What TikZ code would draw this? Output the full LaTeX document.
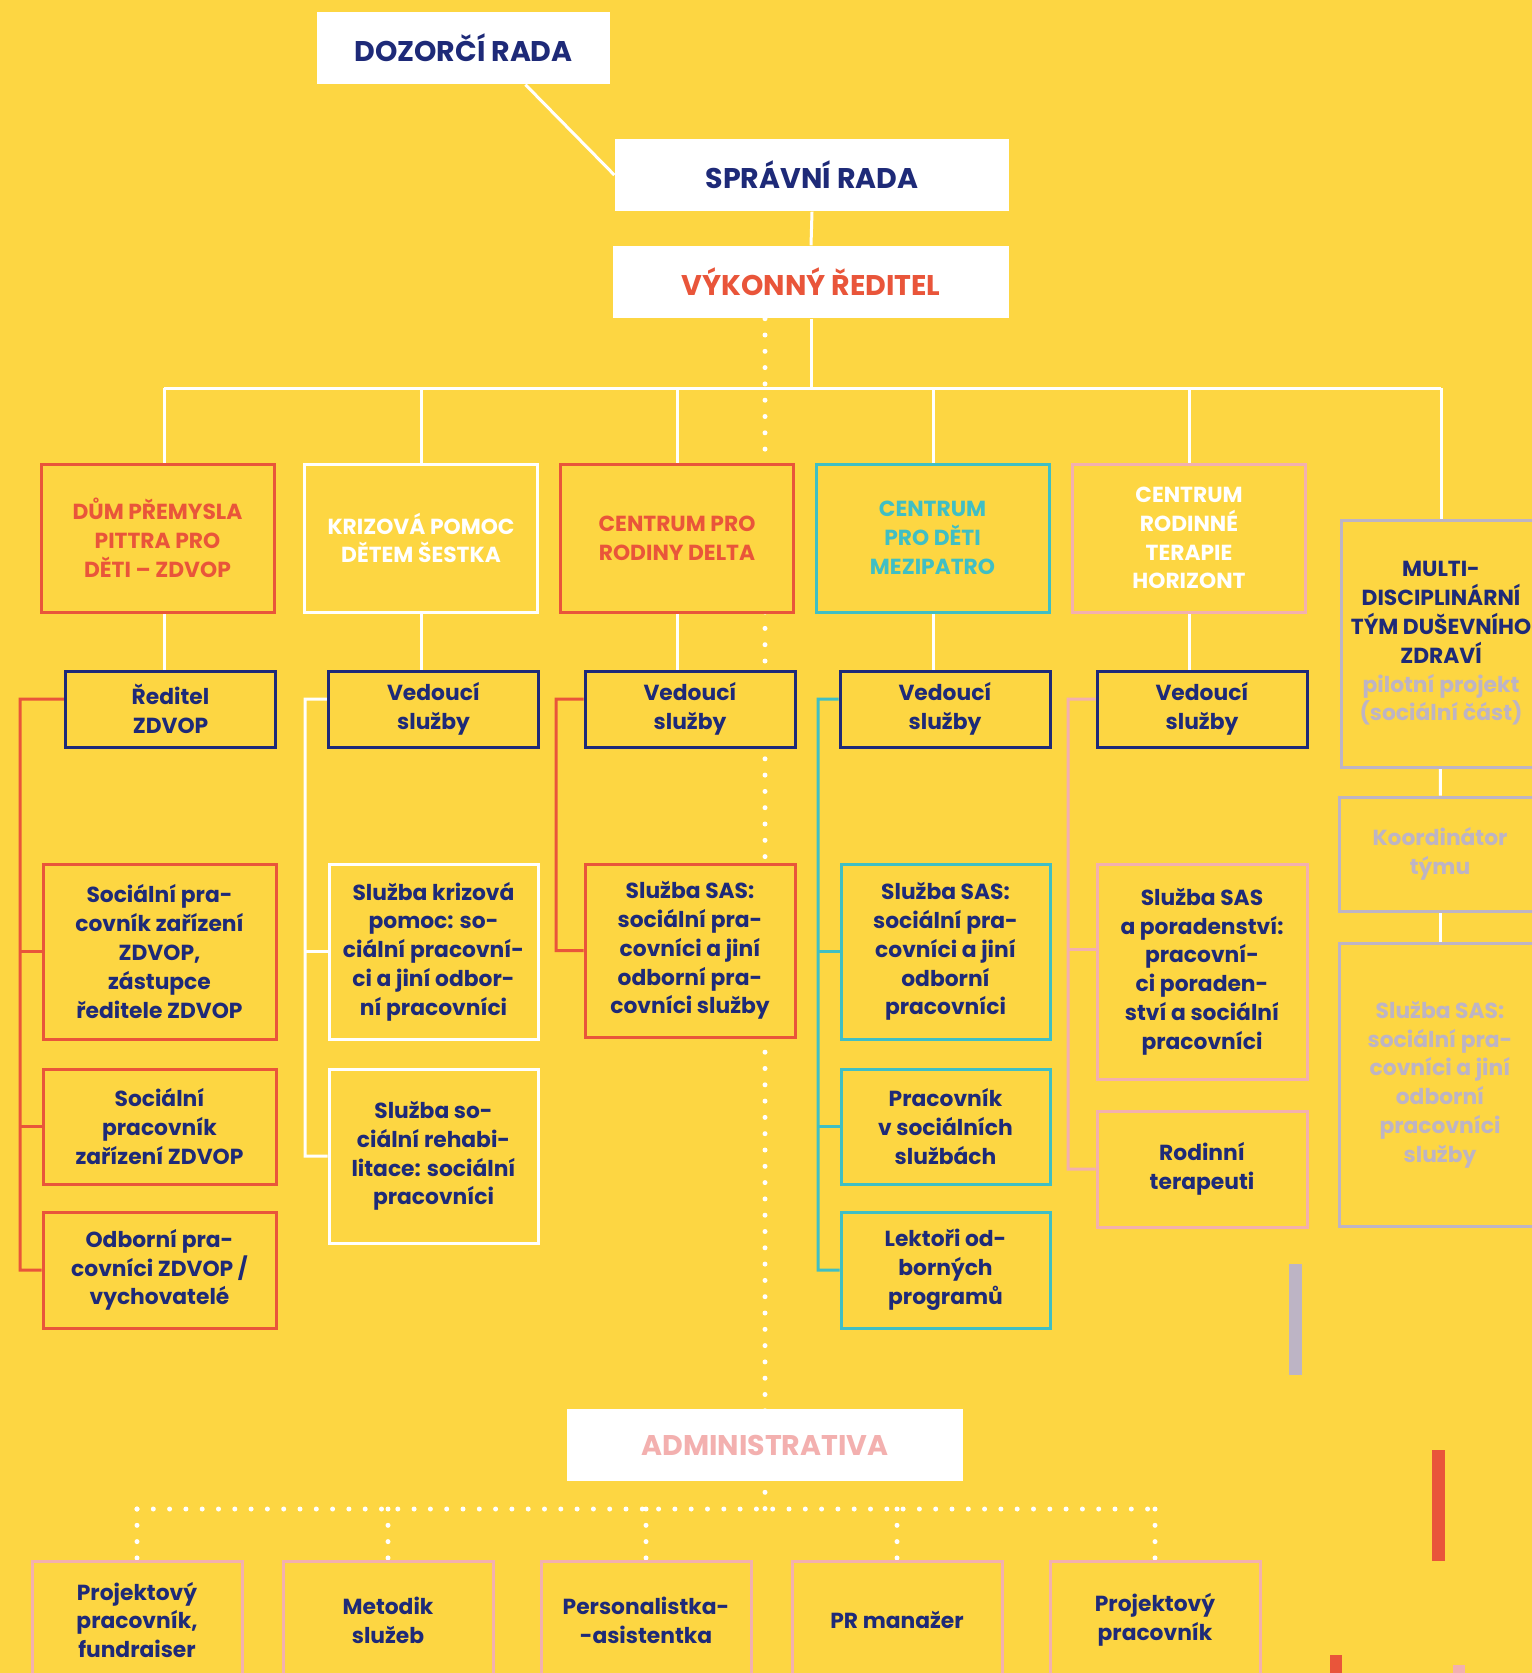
\documentclass[tikz,border=0pt]{standalone}
\usepackage{fontspec}
\setmainfont{Poppins}
\usetikzlibrary{positioning,calc}

\definecolor{bgyellow}{HTML}{FDD642}
\definecolor{navy}{HTML}{1E2A78}
\definecolor{redo}{HTML}{E9553A}
\definecolor{teal}{HTML}{40BFC4}
\definecolor{pinko}{HTML}{F3B0AF}
\definecolor{lav}{HTML}{BDB4C5}

\pgfdeclarelayer{back}
\pgfsetlayers{back,main}

\tikzset{
  box/.style={draw=#1, fill=bgyellow, line width=0.3mm, text=navy},
  wbox/.style={fill=white, minimum width=39.6mm, minimum height=7.2mm,
    font=\bfseries\fontsize{8.1}{9.6}\selectfont},
  unitbox/.style={minimum width=23.3mm, minimum height=14.8mm},
  leadbox/.style={box=navy, minimum width=21mm, minimum height=7.6mm},
  staffbox/.style={box=pinko, minimum width=21mm, minimum height=11.8mm},
  wire/.style={white, line width=0.3mm},
  twig/.style={#1, line width=0.3mm},
  dots/.style={white, line width=0.5mm, line cap=round, dash pattern=on 0pt off 1.63mm}
}

\begin{document}
\begin{tikzpicture}[x=0.1mm, y=-0.1mm,
  every node/.style={font=\bfseries\fontsize{6.2}{8.2}\selectfont, align=center, inner sep=0pt}]
  \useasboundingbox (0,0) rectangle (1532,1673);
  \begin{pgfonlayer}{back}
    \fill[bgyellow] (0,0) rectangle (1532,1673);
  \end{pgfonlayer}

  \node[wbox, minimum width=29.3mm, text=navy] (dozor) at (463.5,48) {DOZORČÍ RADA};
  \node[wbox, minimum width=39.4mm, text=navy] (sprava) at (812,175) {SPRÁVNÍ RADA};
  \node[wbox, text=redo] (reditel) at (811,282) {VÝKONNÝ ŘEDITEL};

  \node[box=redo, unitbox, text=redo] (dum) at (157.5,538) {DŮM PŘEMYSLA\\PITTRA PRO\\DĚTI – ZDVOP};
  \node[box=white, unitbox, text=white] (krize) at (421,538) {KRIZOVÁ POMOC\\DĚTEM ŠESTKA};
  \node[box=redo, unitbox, text=redo] (delta) at (677,538) {CENTRUM PRO\\RODINY DELTA};
  \node[box=teal, unitbox, text=teal] (mezi) at (932.5,538) {CENTRUM\\PRO DĚTI\\MEZIPATRO};
  \node[box=pinko, unitbox, text=white] (horiz) at (1189,538) {CENTRUM\\RODINNÉ\\TERAPIE\\HORIZONT};
  \node[box=lav, minimum width=20mm, minimum height=24.7mm] (multi) at (1441,643.5)
    {MULTI-\\DISCIPLINÁRNÍ\\TÝM DUŠEVNÍHO\\ZDRAVÍ\\\textcolor{lav}{pilotní projekt}\\\textcolor{lav}{(sociální část)}};

  \node[leadbox] (ved1) at (170.5,709) {Ředitel\\ZDVOP};
  \node[leadbox] (ved2) at (433.5,709) {Vedoucí\\služby};
  \node[leadbox] (ved3) at (690,709) {Vedoucí\\služby};
  \node[leadbox] (ved4) at (945,709) {Vedoucí\\služby};
  \node[leadbox] (ved5) at (1202,709) {Vedoucí\\služby};

  \node[box=redo, minimum width=23.3mm, minimum height=17.5mm] (dum1) at (159.5,951.5)
    {Sociální pra-\\covník zařízení\\ZDVOP,\\zástupce\\ředitele ZDVOP};
  \node[box=redo, minimum width=23.3mm, minimum height=11.5mm] (dum2) at (159.5,1126.5)
    {Sociální\\pracovník\\zařízení ZDVOP};
  \node[box=redo, minimum width=23.3mm, minimum height=11.6mm] (dum3) at (159.5,1270)
    {Odborní pra-\\covníci ZDVOP /\\vychovatelé};

  \node[box=white, minimum width=20.9mm, minimum height=17.5mm] (krize1) at (433.5,951.5)
    {Služba krizová\\pomoc: so-\\ciální pracovní-\\ci a jiní odbor-\\ní pracovníci};
  \node[box=white, minimum width=20.9mm, minimum height=17.4mm] (krize2) at (433.5,1156)
    {Služba so-\\ciální rehabi-\\litace: sociální\\pracovníci};

  \node[box=redo, minimum width=21mm, minimum height=17.3mm] (delta1) at (690,950.5)
    {Služba SAS:\\sociální pra-\\covníci a jiní\\odborní pra-\\covníci služby};

  \node[box=teal, minimum width=20.9mm, minimum height=17.5mm] (mezi1) at (945.5,951.5)
    {Služba SAS:\\sociální pra-\\covníci a jiní\\odborní\\pracovníci};
  \node[box=teal, minimum width=20.9mm, minimum height=11.5mm] (mezi2) at (945.5,1126.5)
    {Pracovník\\v sociálních\\službách};
  \node[box=teal, minimum width=20.9mm, minimum height=11.6mm] (mezi3) at (945.5,1270)
    {Lektoři od-\\borných\\programů};

  \node[box=pinko, minimum width=21mm, minimum height=21.5mm] (horiz1) at (1202,971.5)
    {Služba SAS\\a poradenství:\\pracovní-\\ci poraden-\\ství a sociální\\pracovníci};
  \node[box=pinko, minimum width=21mm, minimum height=11.6mm] (horiz2) at (1202,1169)
    {Rodinní\\terapeuti};

  \node[box=lav, text=lav, minimum width=20.2mm, minimum height=11.4mm] (multi1) at (1440,854)
    {Koordinátor\\týmu};
  \node[box=lav, text=lav, minimum width=20.2mm, minimum height=28.3mm] (multi2) at (1440,1084.5)
    {Služba SAS:\\sociální pra-\\covníci a jiní\\odborní\\pracovníci\\služby};

  \node[wbox, text=pinko] (admin) at (765,1445) {ADMINISTRATIVA};
  \node[staffbox] (s1) at (137,1620) {Projektový\\pracovník,\\fundraiser};
  \node[staffbox] (s2) at (388,1620) {Metodik\\služeb};
  \node[staffbox] (s3) at (646,1620) {Personalistka-\\-asistentka};
  \node[staffbox] (s4) at (897,1620) {PR manažer};
  \node[staffbox] (s5) at (1155,1620) {Projektový\\pracovník};

  \fill[lav] (1289,1264) rectangle (1302,1375);
  \fill[redo] (1432,1450) rectangle (1445,1561);
  \fill[redo] (1330,1655) rectangle (1342,1680);
  \fill[pinko] (1453,1665) rectangle (1465,1680);

  \path
  (164,388) coordinate (b1)
  (421,388) coordinate (b2)
  (677,388) coordinate (b3)
  (933,388) coordinate (b4)
  (1189,388) coordinate (b5)
  (1441,388) coordinate (b6)
  (20,699) coordinate (t1)
  (305,699) coordinate (t2)
  (556,699) coordinate (t3)
  (818,699) coordinate (t4)
  (1068,699) coordinate (t5)
  (765,1509) coordinate (a0);

  \begin{pgfonlayer}{back}
    \draw[wire] ([xshift=6.2mm]dozor.south) -- (sprava.west);
    \draw[wire] (sprava.south) -- (reditel.north);
    \draw[wire] (reditel.south) -- (reditel.south |- b1);
    \draw[wire] (b1) -- (b6);
    \foreach \b/\u/\v in {b1/dum/ved1, b2/krize/ved2, b3/delta/ved3, b4/mezi/ved4, b5/horiz/ved5} {
      \draw[wire] (\b) -- (\b |- \u.north);
      \draw[wire] (\b |- \u.south) -- (\b |- \v.north);
    }
    \draw[wire] (b6) -- (multi.north);
    \draw[wire] (multi) -- (multi1);
    \draw[wire] (multi1) -- (multi2);

    \draw[twig=redo] ([yshift=1mm]ved1.west) -- (t1) |- (dum3.west);
    \foreach \n in {dum1,dum2} \draw[twig=redo] (t1 |- \n.west) -- (\n.west);
    \draw[twig=white] ([yshift=1mm]ved2.west) -- (t2) |- (krize2.west);
    \draw[twig=white] (t2 |- krize1.west) -- (krize1.west);
    \draw[twig=redo] ([yshift=1mm]ved3.west) -- (t3) |- (delta1.west);
    \draw[twig=teal] ([yshift=1mm]ved4.west) -- (t4) |- (mezi3.west);
    \foreach \n in {mezi1,mezi2} \draw[twig=teal] (t4 |- \n.west) -- (\n.west);
    \coordinate (h1) at ([yshift=2.2mm]horiz1.west);
    \draw[twig=pinko] ([yshift=1mm]ved5.west) -- (t5) |- (horiz2.west);
    \draw[twig=pinko] (t5 |- h1) -- (h1);

    \draw[dots] (reditel.south -| a0) -- (a0);
    \draw[dots] (s1.north |- a0) -- (s5.north |- a0);
    \foreach \s in {s1,s2,s3,s4,s5} \draw[dots] (\s.north |- a0) -- (\s.north);
  \end{pgfonlayer}
\end{tikzpicture}
\end{document}
